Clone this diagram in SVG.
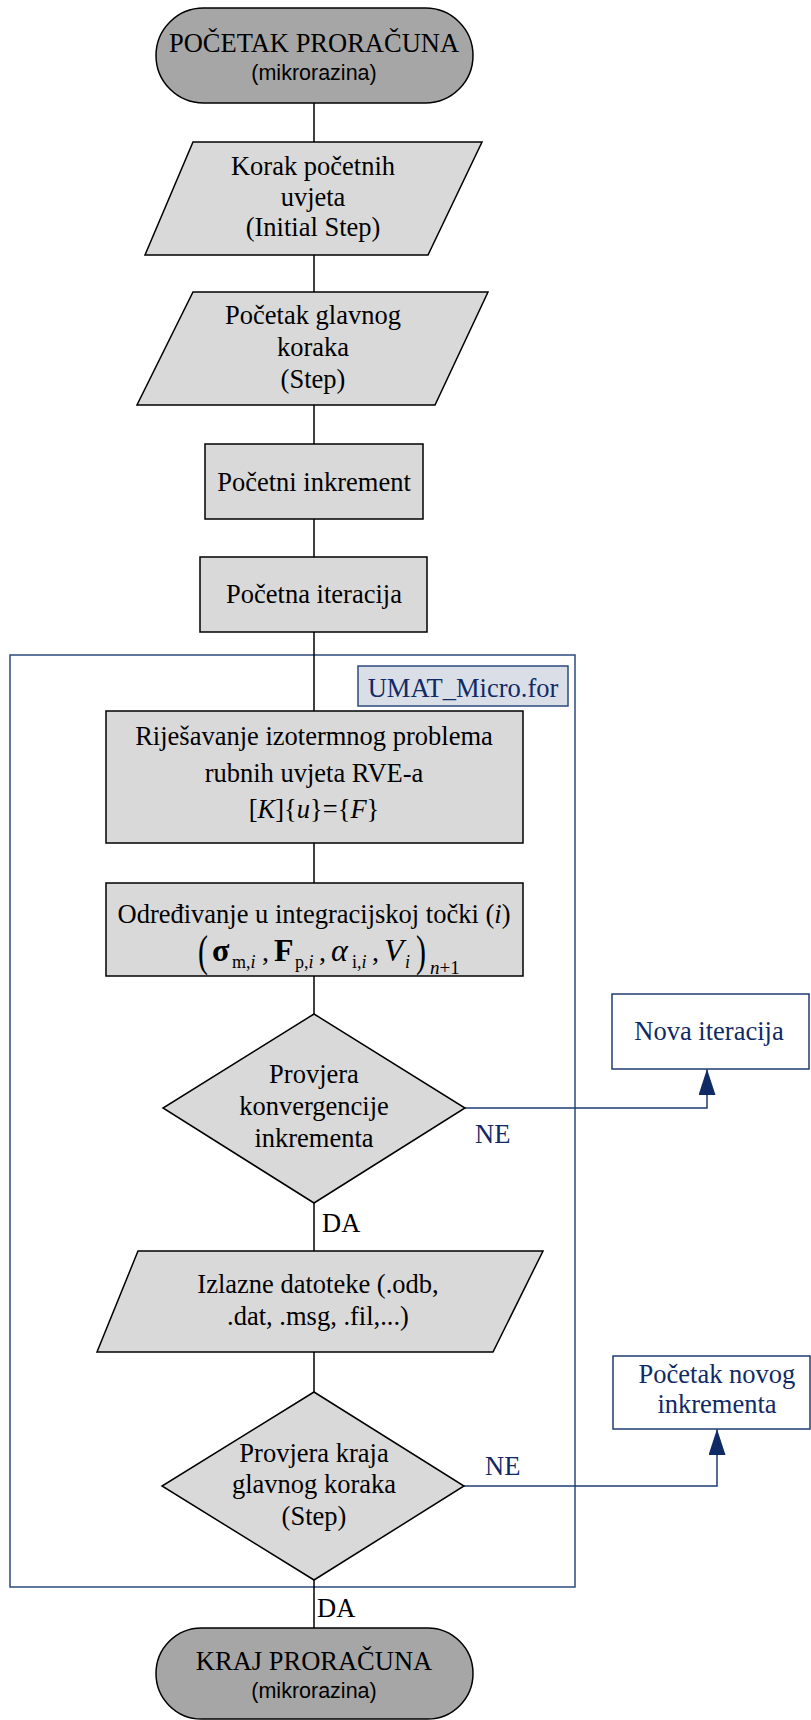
<svg xmlns="http://www.w3.org/2000/svg" width="811" height="1720" viewBox="0 0 811 1720">
<defs>
<style>
.t{font-family:"Liberation Serif","Times New Roman",serif;font-size:26.5px;fill:#000;text-anchor:middle}
.s{font-family:"Liberation Sans",Arial,sans-serif;font-size:21.5px;fill:#000;text-anchor:middle}
.b{font-family:"Liberation Serif","Times New Roman",serif;font-size:26.5px;fill:#102a66;text-anchor:middle}
.lbl{font-family:"Liberation Serif","Times New Roman",serif;font-size:26.5px;fill:#000}
.nlbl{font-family:"Liberation Serif","Times New Roman",serif;font-size:26.5px;fill:#102a66}
.m{font-family:"Liberation Serif","Times New Roman",serif;fill:#000}
.proc{fill:#d9d9d9;stroke:#000;stroke-width:1.5}
.term{fill:#a6a6a6;stroke:#000;stroke-width:1.5}
.nbox{fill:#fff;stroke:#1f3c72;stroke-width:1.5}
.conn{stroke:#000;stroke-width:1.5;fill:none}
.nconn{stroke:#1f3c72;stroke-width:1.5;fill:none}
</style>
<marker id="arr" viewBox="0 0 26 17" refX="26" refY="8.5" markerWidth="26" markerHeight="17" orient="auto" markerUnits="userSpaceOnUse">
<path d="M0,0 L26,8.5 L0,17 Z" fill="#102a66"/>
</marker>
</defs>
<rect x="0" y="0" width="811" height="1720" fill="#fff"/>

<g id="container">
<rect x="10" y="655" width="565" height="932" fill="none" stroke="#2c4a7c" stroke-width="1.5"/>
<rect x="358" y="666" width="210" height="40" fill="#dadee6" stroke="#2c4a7c" stroke-width="1.5"/>
<text class="b" x="463" y="697">UMAT_Micro.for</text>
</g>

<g id="connectors">
<line class="conn" x1="314" y1="103" x2="314" y2="142"/>
<line class="conn" x1="314" y1="255" x2="314" y2="292"/>
<line class="conn" x1="314" y1="405" x2="314" y2="444"/>
<line class="conn" x1="314" y1="519" x2="314" y2="557"/>
<line class="conn" x1="314" y1="632" x2="314" y2="711"/>
<line class="conn" x1="314" y1="843" x2="314" y2="883"/>
<line class="conn" x1="314" y1="976" x2="314" y2="1014"/>
<line class="conn" x1="314" y1="1203" x2="314" y2="1251"/>
<line class="conn" x1="314" y1="1352" x2="314" y2="1392"/>
<line class="conn" x1="314" y1="1580" x2="314" y2="1628"/>
<polyline class="nconn" points="465,1108 707,1108 707,1069" marker-end="url(#arr)"/>
<polyline class="nconn" points="464,1486 717,1486 717,1429" marker-end="url(#arr)"/>
<text class="nlbl" x="475" y="1143">NE</text>
<text class="lbl" x="322" y="1232">DA</text>
<text class="nlbl" x="485" y="1475">NE</text>
<text class="lbl" x="317" y="1617">DA</text>
</g>

<g id="start">
<rect class="term" x="156" y="8" width="317" height="95" rx="47.5" ry="47.5"/>
<text class="t" x="314" y="52">POČETAK PRORAČUNA</text>
<text class="s" x="314" y="80">(mikrorazina)</text>
</g>

<g id="initial-step">
<polygon class="proc" points="193,142 482,142 428,255 145,255"/>
<text class="t" x="313" y="175">Korak početnih</text>
<text class="t" x="313" y="206">uvjeta</text>
<text class="t" x="313" y="236">(Initial Step)</text>
</g>

<g id="main-step">
<polygon class="proc" points="193,292 488,292 435,405 137,405"/>
<text class="t" x="313" y="324">Početak glavnog</text>
<text class="t" x="313" y="356">koraka</text>
<text class="t" x="313" y="388">(Step)</text>
</g>

<g id="initial-increment">
<rect class="proc" x="205" y="444" width="218" height="75"/>
<text class="t" x="314" y="491">Početni inkrement</text>
</g>

<g id="initial-iteration">
<rect class="proc" x="200" y="557" width="227" height="75"/>
<text class="t" x="314" y="603">Početna iteracija</text>
</g>

<g id="solve">
<rect class="proc" x="106" y="711" width="417" height="132"/>
<text class="t" x="314" y="745">Riješavanje izotermnog problema</text>
<text class="t" x="314" y="782">rubnih uvjeta RVE-a</text>
<text class="t" x="314" y="818">[<tspan font-style="italic">K</tspan>]{<tspan font-style="italic">u</tspan>}={<tspan font-style="italic">F</tspan>}</text>
</g>

<g id="determine">
<rect class="proc" x="106" y="883" width="417" height="93"/>
<text class="t" x="314" y="923">Određivanje u integracijskoj točki (<tspan font-style="italic">i</tspan>)</text>
<text class="m" font-size="30" transform="translate(198,966) scale(1,1.45)">(</text>
<text class="m" x="212" y="961" font-size="32" font-weight="bold">σ</text>
<text class="m" x="232" y="968" font-size="18">m,<tspan font-style="italic">i</tspan></text>
<text class="m" x="262" y="961" font-size="28">,</text>
<text class="m" x="274" y="961" font-size="32" font-weight="bold">F</text>
<text class="m" x="295" y="968" font-size="18">p,<tspan font-style="italic">i</tspan></text>
<text class="m" x="319" y="961" font-size="28">,</text>
<text class="m" x="331" y="961" font-size="32" font-style="italic">α</text>
<text class="m" x="352" y="968" font-size="18">i,<tspan font-style="italic">i</tspan></text>
<text class="m" x="372" y="961" font-size="28">,</text>
<text class="m" x="384" y="961" font-size="32" font-style="italic">V</text>
<text class="m" x="405" y="968" font-size="18" font-style="italic">i</text>
<text class="m" font-size="30" transform="translate(416,966) scale(1,1.45)">)</text>
<text class="m" x="430" y="974" font-size="19"><tspan font-style="italic">n</tspan>+1</text>
</g>

<g id="convergence-check">
<polygon class="proc" points="314,1014 465,1108 314,1203 163,1108"/>
<text class="t" x="314" y="1083">Provjera</text>
<text class="t" x="314" y="1115">konvergencije</text>
<text class="t" x="314" y="1147">inkrementa</text>
</g>

<g id="new-iteration">
<rect class="nbox" x="612" y="994" width="197" height="75"/>
<text class="b" x="709" y="1040">Nova iteracija</text>
</g>

<g id="output-files">
<polygon class="proc" points="138,1251 543,1251 493,1352 97,1352"/>
<text class="t" x="318" y="1293">Izlazne datoteke (.odb,</text>
<text class="t" x="318" y="1325">.dat, .msg, .fil,...)</text>
</g>

<g id="step-end-check">
<polygon class="proc" points="314,1392 464,1486 314,1580 162,1486"/>
<text class="t" x="314" y="1462">Provjera kraja</text>
<text class="t" x="314" y="1493">glavnog koraka</text>
<text class="t" x="314" y="1525">(Step)</text>
</g>

<g id="new-increment">
<rect class="nbox" x="613" y="1356" width="197" height="73"/>
<text class="b" x="717" y="1383">Početak novog</text>
<text class="b" x="717" y="1413">inkrementa</text>
</g>

<g id="end">
<rect class="term" x="156" y="1628" width="317" height="91" rx="45.5" ry="45.5"/>
<text class="t" x="314" y="1670">KRAJ PRORAČUNA</text>
<text class="s" x="314" y="1698">(mikrorazina)</text>
</g>
</svg>
